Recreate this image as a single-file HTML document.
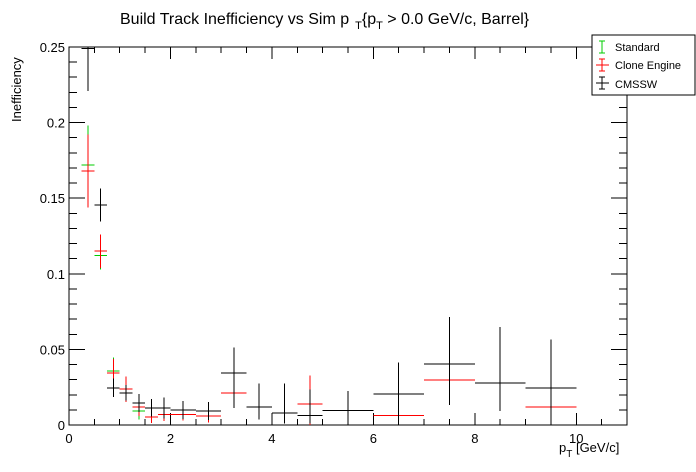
<!DOCTYPE html>
<html><head><meta charset="utf-8"><style>
body{margin:0;background:#fff;}
svg{display:block;font-family:"Liberation Sans",sans-serif;}
</style></head><body>
<svg id="chart" width="696" height="472" viewBox="0 0 696 472">
<rect width="696" height="472" fill="#fff"/>
<text x="120" y="24" font-size="16">Build Track Inefficiency vs Sim p<tspan dx="6" dy="5" font-size="11">T</tspan><tspan dy="-5">{p</tspan><tspan dy="5" font-size="11">T</tspan><tspan dy="-5"> &gt; 0.0 GeV/c, Barrel}</tspan></text>
<g id="axes" shape-rendering="crispEdges"></g>
<g id="series" shape-rendering="crispEdges"></g>
<text transform="translate(21,122) rotate(-90)" font-size="13">Inefficiency</text>
<text x="559" y="452" font-size="13">p<tspan dy="5" font-size="10">T</tspan><tspan dy="-5"> [GeV/c]</tspan></text>
<g shape-rendering="crispEdges">
<rect x="592" y="35" width="103" height="60" fill="#fff" stroke="#000" stroke-width="1"/>
<g><line x1="602" y1="41" x2="602" y2="53" stroke="#0c0"/><line x1="599" y1="41" x2="605" y2="41" stroke="#0c0"/><line x1="599" y1="53" x2="605" y2="53" stroke="#0c0"/><text x="615" y="51" font-size="11">Standard</text></g>
<g><line x1="602" y1="59" x2="602" y2="71" stroke="#f00"/><line x1="596" y1="65" x2="609" y2="65" stroke="#f00"/><line x1="599" y1="59" x2="605" y2="59" stroke="#f00"/><line x1="599" y1="71" x2="605" y2="71" stroke="#f00"/><text x="615" y="69" font-size="11">Clone Engine</text></g>
<g><line x1="602" y1="77" x2="602" y2="89" stroke="#000"/><line x1="596" y1="83" x2="609" y2="83" stroke="#000"/><line x1="599" y1="77" x2="605" y2="77" stroke="#000"/><line x1="599" y1="89" x2="605" y2="89" stroke="#000"/><text x="615" y="88" font-size="11">CMSSW</text></g>
</g>
</svg>
<script>
const binLow  = [0.25,0.5,0.75,1,1.25,1.5,1.75,2,2.5,3,3.5,4,4.5,5,6,7,8,9];
const binHigh = [0.5,0.75,1,1.25,1.5,1.75,2,2.5,3,3.5,4,4.5,5,6,7,8,9,10];
const cmsswVal = [0.249,0.1455,0.0246,0.0213,0.0146,0.0113,0.0113,0.0100,0.0093,0.0343,0.0118,0.0080,0.0064,0.0097,0.0204,0.0403,0.0277,0.0244];
const cmsswErrLo = [0.028,0.011,0.006,0.005,0.006,0.0058,0.007,0.006,0.006,0.023,0.008,0.0071,0.0055,0.0097,0.0204,0.027,0.0184,0.0244];
const cmsswErrHi = [0.02,0.011,0.006,0.005,0.006,0.0058,0.007,0.006,0.006,0.017,0.0156,0.0194,0.0171,0.0129,0.021,0.031,0.037,0.032];
const cloneVal = [0.168,0.115,0.0345,0.0237,0.012,0.0053,0.0071,0.0071,0.0058,0.0211,null,null,0.014,null,0.0064,0.0297,null,0.0118];
const cloneErr = [0.024,0.011,0.009,0.0085,0.006,0.004,0.0045,0.004,0.004,0.0096,null,null,0.0186,null,0.0064,0.016,null,0.0118];
const stdVal = [0.172,0.112,0.0357,0.0237,0.0093,0.0053,0.0071,0.0071,0.0058,0.0211,null,null,0.014,null,0.0064,0.0297,null,0.0118];
const stdErr = [0.026,0.009,0.009,0.0085,0.0055,0.004,0.0045,0.004,0.004,0.0096,null,null,0.0186,null,0.0064,0.016,null,0.0118];
const xTicks = [0,2,4,6,8,10];
const yTicks = [0,0.05,0.1,0.15,0.2,0.25];
const yTickLabels = ["0","0.05","0.1","0.15","0.2","0.25"];

const X0=69,X1=627,Y0=425,Y1=47,XMAX=11,YMAX=0.25;
const sx=v=>X0+(X1-X0)*v/XMAX;
const sy=v=>Y0-(Y0-Y1)*Math.min(v,YMAX)/YMAX;
const NS="http://www.w3.org/2000/svg";
function mk(tag,attrs,parent){const e=document.createElementNS(NS,tag);for(const k in attrs)e.setAttribute(k,attrs[k]);parent.appendChild(e);return e;}
const axes=document.getElementById('axes');
const frame=mk('rect',{x:X0,y:Y1,width:X1-X0,height:Y0-Y1,fill:'none',stroke:'#000','stroke-width':1},axes);


for(let v=0;v<=XMAX+1e-9;v+=0.5){
  const major=Math.abs(v/2-Math.round(v/2))<1e-9;const L=major?12:6;
  mk('line',{x1:sx(v),x2:sx(v),y1:Y0,y2:Y0-L,stroke:'#000'},axes);
  mk('line',{x1:sx(v),x2:sx(v),y1:Y1,y2:Y1+L,stroke:'#000'},axes);
}
for(let i=0;i<=25;i++){
  const v=i*0.01;const major=i%5===0;const L=major?16:8;
  mk('line',{x1:X0,x2:X0+L,y1:sy(v),y2:sy(v),stroke:'#000'},axes);
  mk('line',{x1:X1,x2:X1-L,y1:sy(v),y2:sy(v),stroke:'#000'},axes);
}
xTicks.forEach(v=>{const t=mk('text',{x:sx(v),y:Y0+18,'font-size':13,'text-anchor':'middle'},axes);t.textContent=v;

});
yTicks.forEach((v,i)=>{const t=mk('text',{x:X0-4,y:sy(v)+5,'font-size':13,'text-anchor':'end'},axes);t.textContent=yTickLabels[i];

});
const series=document.getElementById('series');
function draw(name,color,vals,lo,hi){
  const g=mk('g',{},series);
  
  
  vals.forEach((v,i)=>{
    if(v===null)return;
    const cx=sx((binLow[i]+binHigh[i])/2);
    const p=mk('g',{},g);
    
    
    mk('line',{x1:sx(binLow[i]),x2:sx(binHigh[i]),y1:sy(v),y2:sy(v),stroke:color},p);
    mk('line',{x1:cx,x2:cx,y1:sy(v+hi[i]),y2:sy(Math.max(0,v-lo[i])),stroke:color},p);
  });
}
draw('standard','#0c0',stdVal,stdErr,stdErr);
draw('clone-engine','#f00',cloneVal,cloneErr,cloneErr);
draw('cmssw','#000',cmsswVal,cmsswErrLo,cmsswErrHi);
</script>
</body></html>
